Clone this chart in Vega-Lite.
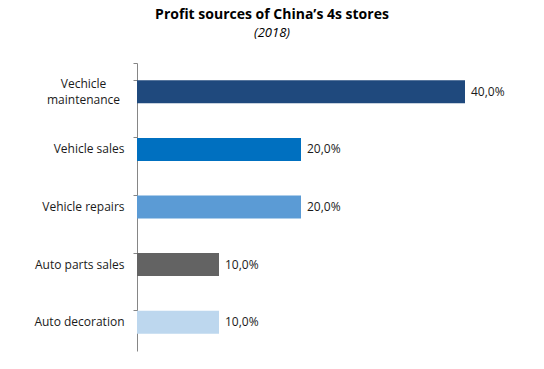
{
  "$schema": "https://vega.github.io/schema/vega-lite/v6.json",
  "autosize": "none",
  "width": 328,
  "height": 288,
  "padding": {"left": 137, "top": 63, "right": 79, "bottom": 18},
  "background": "white",
  "title": {
    "text": "Profit sources of China’s 4s stores",
    "subtitle": "(2018)",
    "anchor": "middle",
    "dx": -29,
    "offset": 17,
    "font": "Open Sans",
    "fontSize": 14,
    "fontWeight": "bold",
    "color": "#000000",
    "subtitleFont": "Open Sans",
    "subtitleFontSize": 13,
    "subtitleFontStyle": "italic",
    "subtitleColor": "#000000",
    "subtitlePadding": 5
  },
  "data": {
    "values": [
      {"source": "Vechicle maintenance", "share": 0.4},
      {"source": "Vehicle sales", "share": 0.2},
      {"source": "Vehicle repairs", "share": 0.2},
      {"source": "Auto parts sales", "share": 0.1},
      {"source": "Auto decoration", "share": 0.1}
    ]
  },
  "encoding": {
    "y": {
      "field": "source",
      "type": "nominal",
      "sort": null,
      "scale": {"paddingInner": 0.6, "paddingOuter": 0.3},
      "axis": {
        "title": null,
        "ticks": true,
        "tickExtra": true,
        "bandPosition": 0,
        "domainColor": "#868686",
        "tickColor": "#868686",
        "tickSize": 4,
        "labelFont": "Open Sans",
        "labelFontSize": 12,
        "labelColor": "#1a1a1a",
        "labelLineHeight": 16,
        "labelAlign": {"expr": "datum.value == 'Vechicle maintenance' ? 'center' : 'right'"},
        "labelPadding": {"expr": "datum.value == 'Vechicle maintenance' ? 50 : 9"},
        "labelOffset": {"expr": "datum.value == 'Vechicle maintenance' ? -8 : 0"},
        "labelExpr": "datum.value == 'Vechicle maintenance' ? ['Vechicle', 'maintenance'] : datum.value"
      }
    },
    "x": {
      "field": "share",
      "type": "quantitative",
      "scale": {"domain": [0, 0.4], "nice": false},
      "axis": null
    }
  },
  "layer": [
    {
      "mark": {"type": "bar"},
      "encoding": {
        "color": {
          "field": "source",
          "type": "nominal",
          "sort": null,
          "legend": null,
          "scale": {
            "domain": ["Vechicle maintenance", "Vehicle sales", "Vehicle repairs", "Auto parts sales", "Auto decoration"],
            "range": ["#1F497D", "#0070C0", "#5B9BD5", "#636363", "#BDD7EE"]
          }
        }
      }
    },
    {
      "mark": {"type": "text", "align": "left", "baseline": "middle", "dx": 6, "font": "Open Sans", "fontSize": 12, "color": "#1a1a1a"},
      "encoding": {
        "text": {"field": "share", "type": "quantitative", "format": ".1%"}
      }
    }
  ],
  "config": {
    "view": {"stroke": null},
    "locale": {
      "number": {"decimal": ",", "thousands": ".", "grouping": [3], "currency": ["", " €"]}
    }
  }
}
